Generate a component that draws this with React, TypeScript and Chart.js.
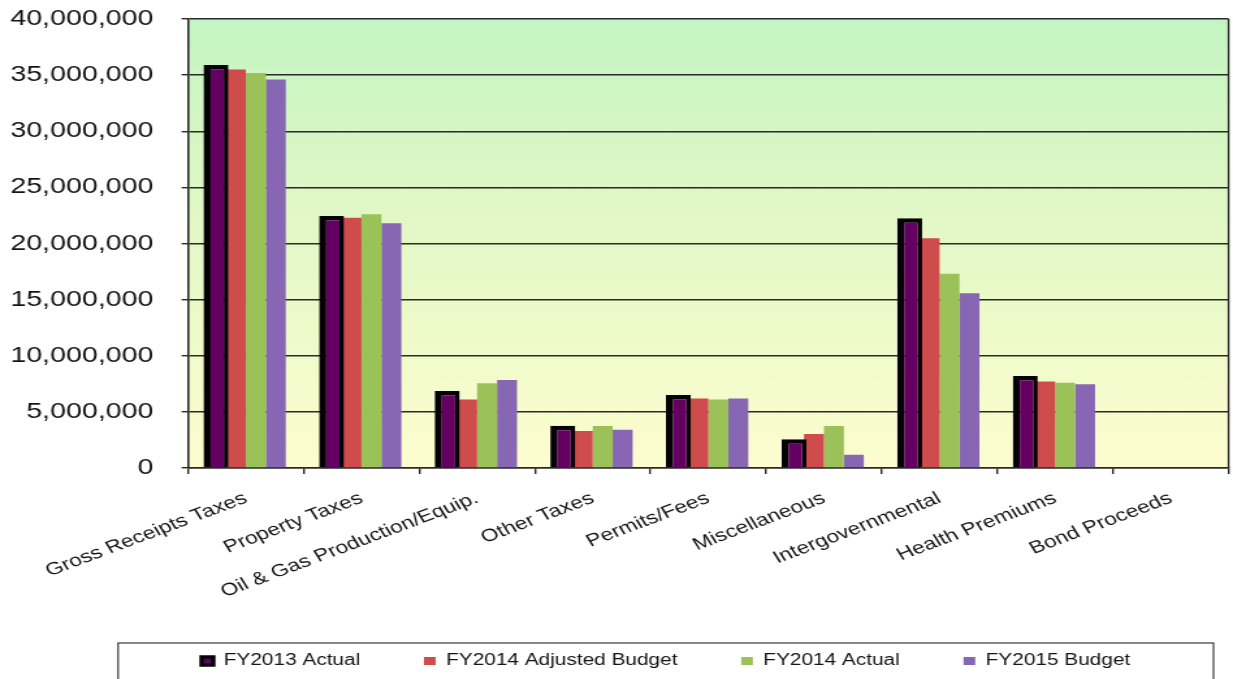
import { useEffect, useRef } from 'react';
import { Chart, registerables } from 'chart.js';

Chart.register(...registerables);

// Revenue categories and the four budget series
const categories = [
  'Gross Receipts Taxes',
  'Property Taxes',
  'Oil & Gas Production/Equip.',
  'Other Taxes',
  'Permits/Fees',
  'Miscellaneous',
  'Intergovernmental',
  'Health Premiums',
  'Bond Proceeds',
];

const seriesNames = ['FY2013 Actual', 'FY2014 Adjusted Budget', 'FY2014 Actual', 'FY2015 Budget'];

const fy2013Actual = [35900000, 22450000, 6850000, 3770000, 6500000, 2560000, 22250000, 8200000, 0];
const fy2014AdjustedBudget = [35500000, 22300000, 6100000, 3300000, 6200000, 3030000, 20470000, 7700000, 0];
const fy2014Actual = [35200000, 22600000, 7550000, 3740000, 6100000, 3740000, 17300000, 7600000, 0];
const fy2015Budget = [34600000, 21800000, 7840000, 3400000, 6200000, 1190000, 15570000, 7460000, 0];

const yMin = 0;
const yMax = 40000000;
const yStep = 5000000;

// The chart is laid out on a narrower canvas and widened horizontally on the page
const PAGE_W = 1233;
const PAGE_H = 679;
const CANVAS_W = 948;
const STRETCH = PAGE_W / CANVAS_W;

const FONT = "'Liberation Sans', Arial, Helvetica, sans-serif";
const INK = '#141414';
const LINE = '#2a2a2a';

const plotDecor = {
  id: 'plotDecor',
  beforeDraw(chart: any) {
    const { ctx, chartArea: a } = chart;
    ctx.save();
    ctx.fillStyle = '#ffffff';
    ctx.fillRect(0, 0, chart.width, chart.height);
    const g = ctx.createLinearGradient(0, a.top, 0, a.bottom);
    g.addColorStop(0, '#c4f5c2');
    g.addColorStop(0.45, '#e2f8c6');
    g.addColorStop(1, '#fdfdcf');
    ctx.fillStyle = g;
    ctx.fillRect(a.left, a.top, a.right - a.left, a.bottom - a.top);
    ctx.restore();
  },
  afterDatasetsDraw(chart: any) {
    const { ctx, chartArea: a } = chart;
    ctx.save();
    ctx.strokeStyle = LINE;
    ctx.lineWidth = 1.4;
    ctx.beginPath();
    ctx.moveTo(a.right, a.top);
    ctx.lineTo(a.right, a.bottom);
    ctx.stroke();
    ctx.restore();
  },
  afterDraw(chart: any) {
    const lg = chart.legend;
    if (!lg) return;
    const { ctx } = chart;
    ctx.save();
    ctx.strokeStyle = '#3a3a3a';
    ctx.lineWidth = 1.2;
    const x0 = lg.left + 11.4;
    const x1 = lg.right - 11.6;
    const y0 = lg.top + 39;
    ctx.strokeRect(x0, y0, x1 - x0, 80);
    ctx.restore();
  },
};

// Tick labels run past their axis boxes (rotated category names, wide
// value labels), so they are drawn without the per-axis clip region.
const noLabelClip = (s: any) => {
  s._computeLabelArea = () => undefined;
};

export default function App() {
  const canvasRef = useRef<HTMLCanvasElement>(null);

  useEffect(() => {
    const canvas = canvasRef.current;
    if (!canvas) return;
    Chart.defaults.font.family = FONT;

    const chart = new Chart(canvas, {
      type: 'bar',
      data: {
        labels: categories,
        datasets: [
          {
            label: seriesNames[0],
            data: fy2013Actual,
            backgroundColor: '#640062',
            borderColor: '#050005',
            borderWidth: { left: 5.5, right: 3.5, top: 4.5, bottom: 0 },
            borderSkipped: 'bottom',
            barPercentage: 1.25,
            categoryPercentage: 0.69,
          },
          {
            label: seriesNames[1],
            data: fy2014AdjustedBudget,
            backgroundColor: '#cf4c4c',
            borderWidth: 0,
            barPercentage: 1,
            categoryPercentage: 0.69,
          },
          {
            label: seriesNames[2],
            data: fy2014Actual,
            backgroundColor: '#9bc159',
            borderWidth: 0,
            barPercentage: 1,
            categoryPercentage: 0.69,
          },
          {
            label: seriesNames[3],
            data: fy2015Budget,
            backgroundColor: '#8767b3',
            borderWidth: 0,
            barPercentage: 1,
            categoryPercentage: 0.69,
          },
        ],
      },
      options: {
        responsive: false,
        animation: false,
        events: [],
        layout: { padding: { left: 79.4, right: 3.4, top: 19, bottom: 0 } },
        plugins: {
          tooltip: { enabled: false },
          title: { display: false },
          legend: {
            position: 'bottom',
            labels: {
              boxWidth: 9,
              boxHeight: 8,
              padding: 49,
              color: INK,
              font: { family: FONT, size: 16 },
            },
          },
        },
        scales: {
          x: {
            ticks: {
              autoSkip: false,
              minRotation: 26,
              maxRotation: 26,
              padding: 14,
              color: INK,
              font: { family: FONT, size: 17.5 },
            },
            grid: {
              drawOnChartArea: false,
              drawTicks: true,
              tickLength: 6,
              color: LINE,
              lineWidth: 1.4,
              offset: true,
            },
            border: { display: true, color: LINE, width: 1.6 },
            afterFit: (s: any) => {
              s.height = 136;
              noLabelClip(s);
            },
          },
          y: {
            min: yMin,
            max: yMax,
            ticks: {
              stepSize: yStep,
              padding: 21.6,
              color: INK,
              font: { family: FONT, size: 22 },
              callback: (v: any) => Number(v).toLocaleString('en-US'),
            },
            grid: {
              color: LINE,
              lineWidth: 1.4,
              tickLength: 5,
            },
            border: { display: true, color: LINE, width: 1.6 },
            afterFit: (s: any) => {
              s.width = 65.2;
              s.paddingTop = 0;
              s.paddingBottom = 0;
              noLabelClip(s);
            },
          },
        },
      },
      plugins: [plotDecor],
    });

    return () => chart.destroy();
  }, []);

  return (
    <div
      style={{
        position: 'fixed',
        left: 0,
        top: 0,
        width: PAGE_W,
        height: PAGE_H,
        overflow: 'hidden',
        background: '#ffffff',
      }}
    >
      <div
        style={{
          width: CANVAS_W,
          height: PAGE_H,
          transform: `scaleX(${STRETCH})`,
          transformOrigin: '0 0',
        }}
      >
        <canvas
          ref={canvasRef}
          width={CANVAS_W}
          height={PAGE_H}
          style={{ display: 'block', width: CANVAS_W, height: PAGE_H }}
        />
      </div>
    </div>
  );
}
